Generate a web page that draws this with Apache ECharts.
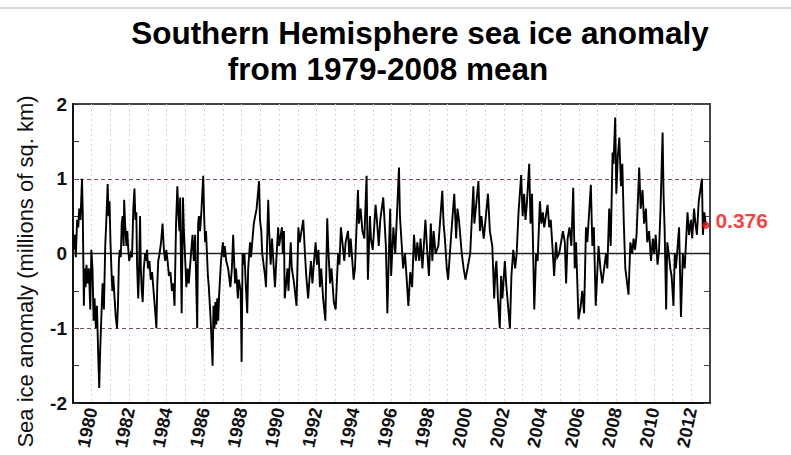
<!DOCTYPE html>
<html><head><meta charset="utf-8">
<script src="https://cdn.jsdelivr.net/npm/echarts@6/dist/echarts.min.js"></script>
<style>html,body{margin:0;padding:0;background:#fff}#c{width:791px;height:455px}</style>
</head><body><div id="c"></div>
<script>
// ---- data ----
const titleLines = ['Southern Hemisphere sea ice anomaly', 'from 1979-2008 mean'];
const yAxisTitle = 'Sea ice anomaly (millions of sq. km)';
const refLevels = [1, 0, -1];
const latestYear = 2012.78;
const latestValue = 0.376;

const years = [
1979.00,1979.05,1979.10,1979.15,1979.22,1979.28,1979.33,1979.40,1979.48,1979.52,1979.58,1979.62,1979.67,1979.72,1979.78,1979.85,1979.92,1979.98,
1980.04,1980.10,1980.15,1980.22,1980.28,1980.35,1980.40,1980.45,1980.52,1980.58,1980.65,1980.72,1980.78,1980.85,1980.90,1980.95,
1981.00,1981.05,1981.10,1981.15,1981.22,1981.28,1981.35,1981.40,1981.45,1981.50,1981.55,1981.60,1981.65,1981.70,1981.73,1981.78,1981.85,1981.90,1981.95,
1982.00,1982.08,1982.15,1982.22,1982.28,1982.33,1982.38,1982.42,1982.48,1982.52,1982.58,1982.62,1982.67,1982.72,1982.78,1982.85,1982.90,1982.95,
1983.00,1983.08,1983.15,1983.22,1983.30,1983.38,1983.45,1983.50,1983.55,1983.62,1983.70,1983.78,1983.85,1983.92,1983.98,
1984.05,1984.12,1984.20,1984.28,1984.35,1984.42,1984.50,1984.57,1984.62,1984.68,1984.72,1984.76,1984.80,1984.87,1984.92,
1985.00,1985.05,1985.12,1985.18,1985.30,1985.38,1985.45,1985.52,1985.63,1985.68,1985.72,1985.78,1985.85,1985.95,
1986.00,1986.05,1986.10,1986.20,1986.25,1986.35,1986.40,1986.45,1986.50,1986.55,1986.60,1986.65,1986.70,1986.75,1986.80,1986.90,
1987.00,1987.05,1987.10,1987.18,1987.28,1987.40,1987.48,1987.55,1987.60,1987.65,1987.70,1987.80,1987.85,1987.95,
1988.00,1988.05,1988.10,1988.15,1988.22,1988.30,1988.35,1988.45,1988.50,1988.65,1988.80,1988.93,1988.98,
1989.05,1989.10,1989.25,1989.30,1989.42,1989.47,1989.55,1989.62,1989.78,1989.85,1989.95,
1990.00,1990.15,1990.20,1990.26,1990.30,1990.45,1990.50,1990.62,1990.68,1990.80,1990.93,
1991.03,1991.10,1991.29,1991.38,1991.45,1991.55,1991.62,1991.70,1991.78,1991.85,1991.95,
1992.02,1992.10,1992.18,1992.25,1992.35,1992.47,1992.57,1992.62,1992.72,1992.80,1992.92,
1993.02,1993.15,1993.22,1993.30,1993.40,1993.48,1993.55,1993.68,1993.75,1993.82,1993.88,1993.98,
1994.05,1994.21,1994.26,1994.35,1994.45,1994.55,1994.67,1994.74,1994.85,1994.90,
1995.00,1995.15,1995.22,1995.32,1995.40,1995.56,1995.70,1995.78,1995.88,1995.93,1995.98,
1996.10,1996.20,1996.40,1996.45,1996.55,1996.62,1996.72,1996.80,1996.90,
1997.00,1997.10,1997.20,1997.30,1997.38,1997.48,1997.55,1997.65,1997.81,1997.90,
1998.00,1998.10,1998.18,1998.25,1998.35,1998.50,1998.71,1998.78,1998.85,1998.95,
1999.02,1999.20,1999.35,1999.45,1999.52,1999.60,1999.75,1999.85,1999.95,
2000.20,2000.37,2000.42,2000.50,2000.64,2000.72,2000.80,2000.92,
2001.00,2001.15,2001.25,2001.38,2001.48,2001.55,2001.60,2001.68,2001.78,2001.85,2001.92,
2002.05,2002.12,2002.32,2002.40,2002.50,2002.60,2002.68,2002.78,2002.92,
2003.00,2003.08,2003.15,2003.22,2003.35,2003.42,2003.50,2003.62,2003.72,2003.80,2003.92,
2004.00,2004.08,2004.15,2004.33,2004.42,2004.50,2004.60,2004.68,2004.78,2004.85,2004.95,
2005.15,2005.25,2005.32,2005.40,2005.50,2005.60,2005.70,2005.78,2005.85,2005.98,
2006.10,2006.18,2006.28,2006.38,2006.45,2006.64,2006.72,2006.80,2006.90,
2007.05,2007.15,2007.25,2007.35,2007.45,2007.52,2007.62,2007.70,2007.80,2007.85,2007.94,
2008.00,2008.08,2008.16,2008.25,2008.32,2008.40,2008.48,2008.65,2008.75,2008.85,2008.92,
2009.00,2009.08,2009.15,2009.22,2009.30,2009.40,2009.48,2009.58,2009.65,2009.75,2009.85,2009.95,
2010.02,2010.10,2010.20,2010.28,2010.36,2010.47,2010.52,2010.58,2010.66,2010.72,2010.80,2010.88,2010.95,
2011.05,2011.12,2011.18,2011.35,2011.45,2011.55,2011.65,2011.80,2011.88,2011.98,
2012.05,2012.15,2012.22,2012.30,2012.40,2012.57,2012.62,2012.70,2012.78
];

const anomaly = [
0.30,0.05,0.25,-0.05,0.45,0.35,0.60,0.45,1.00,0.55,-0.70,-0.20,-0.45,-0.15,-0.40,-0.20,-0.75,0.05,
-0.20,-0.90,-0.60,-1.00,-0.70,-1.40,-1.80,-1.30,-0.80,-0.40,-0.75,0.10,0.45,0.93,0.50,0.70,
0.15,-0.20,-0.50,-0.30,-0.60,-0.85,-1.00,-0.70,-0.10,0.05,-0.05,0.40,0.50,0.10,0.72,0.40,0.10,0.30,0.05,
-0.10,0.00,-0.05,0.60,0.87,0.45,0.55,-0.15,-0.60,-0.30,0.50,-0.20,-0.50,-0.65,-0.20,0.00,-0.10,0.05,
-0.20,-0.10,-0.35,-0.25,-0.50,-0.75,-1.00,-0.40,-0.10,0.00,0.15,0.40,0.05,-0.10,0.05,
-0.10,-0.30,-0.25,-0.50,-0.40,-0.70,0.40,0.90,0.55,0.30,0.75,-0.10,-0.80,0.75,0.30,
-0.15,-0.45,-0.20,-0.40,0.00,0.25,-0.10,0.25,-1.00,0.40,0.50,0.30,0.55,1.04,
0.50,0.15,0.30,-0.30,-0.45,-0.90,-1.20,-1.50,-0.70,-1.00,-0.65,-0.95,-0.60,-0.90,-0.55,-0.10,
0.15,-0.05,0.10,-0.10,-0.20,-0.45,-0.20,0.25,-0.10,-0.40,-0.20,-0.60,-0.35,-0.50,
-1.45,0.00,-0.15,0.00,-0.40,-0.80,-0.20,0.15,-0.05,0.40,0.60,0.97,0.45,
0.30,0.00,-0.30,-0.45,0.72,0.30,-0.15,0.20,-0.45,-0.10,0.35,
0.10,0.35,0.00,0.30,-0.60,-0.20,-0.50,0.15,-0.20,-0.40,-0.70,
0.35,0.15,0.45,0.00,-0.30,-0.60,-0.35,-0.10,-0.40,-0.15,0.15,
-0.15,0.05,-0.45,-0.20,-0.60,-0.90,0.47,0.10,-0.40,-0.20,-0.65,
-0.75,0.00,-0.15,0.35,0.10,-0.10,0.15,0.30,-0.05,0.20,0.00,-0.35,
-0.20,0.85,0.40,0.60,0.30,0.20,1.04,-0.35,0.50,0.20,
0.05,0.65,0.45,0.10,0.45,0.75,0.10,-0.80,0.20,0.60,-0.30,
0.35,0.00,1.15,0.50,0.10,-0.20,0.00,-0.30,-0.70,
-0.25,-0.45,0.25,-0.10,0.15,-0.10,0.20,-0.20,0.45,0.05,
-0.30,0.40,-0.10,0.30,0.00,0.10,0.84,0.40,0.20,-0.20,
-0.35,0.30,0.80,0.20,0.60,0.45,0.00,-0.20,-0.35,
0.00,0.90,0.40,0.60,0.97,0.30,0.50,0.20,
0.40,0.80,0.30,0.10,-0.60,-0.20,-0.10,-0.60,-1.00,-0.30,-0.60,
-0.10,-0.40,-1.00,-0.30,0.05,-0.20,0.00,0.55,1.05,
0.50,0.80,0.45,0.65,1.20,0.40,0.80,-0.75,0.00,-0.10,0.70,
0.40,0.55,0.35,0.65,0.35,0.45,0.05,-0.30,0.15,-0.05,0.00,
0.30,0.15,-0.40,0.20,0.35,0.10,0.88,-0.20,0.15,-0.88,
-0.70,-0.50,-0.80,0.35,0.15,0.92,0.10,0.35,-0.70,
0.10,-0.20,-0.40,-0.20,0.00,-0.20,0.60,0.10,1.35,1.20,1.82,
0.80,1.30,1.55,0.90,1.20,0.40,-0.20,-0.55,0.15,0.00,0.20,
0.05,0.25,0.70,1.15,0.60,0.85,0.40,0.60,0.15,0.30,-0.10,0.20,
0.00,0.25,-0.15,0.05,0.60,1.62,0.80,0.30,-0.75,0.15,0.00,-0.20,-0.30,
-0.70,0.00,-0.20,0.35,-0.85,0.00,-0.20,0.55,0.25,0.45,
0.20,0.60,0.40,0.25,0.70,1.00,0.25,0.55,0.376
];

// ---- chart ----
const FONT = '"Liberation Sans", Arial, Helvetica, sans-serif';
const chart = echarts.init(document.getElementById('c'), null, {renderer: 'svg'});
const lineData = years.map((y, i) => [y, anomaly[i]]);

chart.setOption({
  animation: false,
  backgroundColor: '#fff',
  textStyle: {fontFamily: FONT},
  graphic: [{
    type: 'line', silent: true,
    shape: {x1: 0, y1: 8, x2: 791, y2: 8},
    style: {stroke: '#b0b0b0', lineWidth: 1}
  }],
  title: [
    {text: titleLines[0], left: 415, top: 12, textAlign: 'center',
     textStyle: {fontFamily: FONT, fontWeight: 'bold', fontSize: 31.5, color: '#000'}},
    {text: titleLines[1], left: 383, top: 48, textAlign: 'center',
     textStyle: {fontFamily: FONT, fontWeight: 'bold', fontSize: 31.5, color: '#000'}}
  ],
  grid: {left: 73, right: 81, top: 104, bottom: 52, show: true,
         borderColor: '#444', borderWidth: 2, backgroundColor: 'transparent'},
  xAxis: {
    type: 'value', min: 1979, max: 2013, interval: 1,
    axisLine: {show: true, onZero: false, lineStyle: {color: '#111', width: 2}},
    axisTick: {show: false},
    axisLabel: {rotate: 78, margin: 5, fontFamily: FONT, fontWeight: 'bold', fontSize: 18, color: '#111',
      formatter: v => (v % 2 === 0 ? String(v) : '')},
    splitLine: {show: true, lineStyle: {color: '#d9d2d2', type: [2, 3], width: 1}}
  },
  yAxis: [{
    type: 'value', min: -2, max: 2, interval: 0.5,
    axisLine: {show: true, onZero: false, lineStyle: {color: '#111', width: 2}},
    axisTick: {show: true, inside: true, length: 6, lineStyle: {color: '#333'}},
    axisLabel: {margin: 6, fontFamily: FONT, fontWeight: 'bold', fontSize: 19, color: '#111',
      formatter: v => (Number.isInteger(v) ? String(v) : '')},
    splitLine: {show: false},
    name: yAxisTitle, nameLocation: 'middle', nameGap: 37, nameRotate: 90,
    nameTextStyle: {fontFamily: FONT, fontSize: 22, color: '#111', padding: [0, 36, 0, 0]}
  }, {
    type: 'value', position: 'right', min: -2, max: 2, interval: 0.5,
    axisLine: {show: true, onZero: false, lineStyle: {color: '#444', width: 2}},
    axisTick: {show: true, inside: true, length: 6, lineStyle: {color: '#444'}},
    axisLabel: {show: false},
    splitLine: {show: false}
  }],
  series: [{
    type: 'line', data: lineData, symbol: 'none', showSymbol: false, z: 3,
    lineStyle: {color: '#000', width: 1.9, join: 'miter'},
    markLine: {
      silent: true, symbol: 'none', label: {show: false}, z: 2,
      data: refLevels.map(v => ({
        yAxis: v,
        lineStyle: {color: v === 0 ? '#222' : '#7a5050', type: v === 0 ? 'solid' : [4, 3], width: v === 0 ? 1.3 : 1}
      }))
    }
  }, {
    type: 'scatter', data: [[latestYear, latestValue]], symbolSize: 7, z: 5,
    itemStyle: {color: '#f01010'},
    label: {show: true, position: 'right', distance: 6, offset: [0, -5],
      formatter: String(latestValue), color: '#f01010', fontFamily: FONT, fontWeight: 'bold', fontSize: 21}
  }]
});
</script>
</body></html>
